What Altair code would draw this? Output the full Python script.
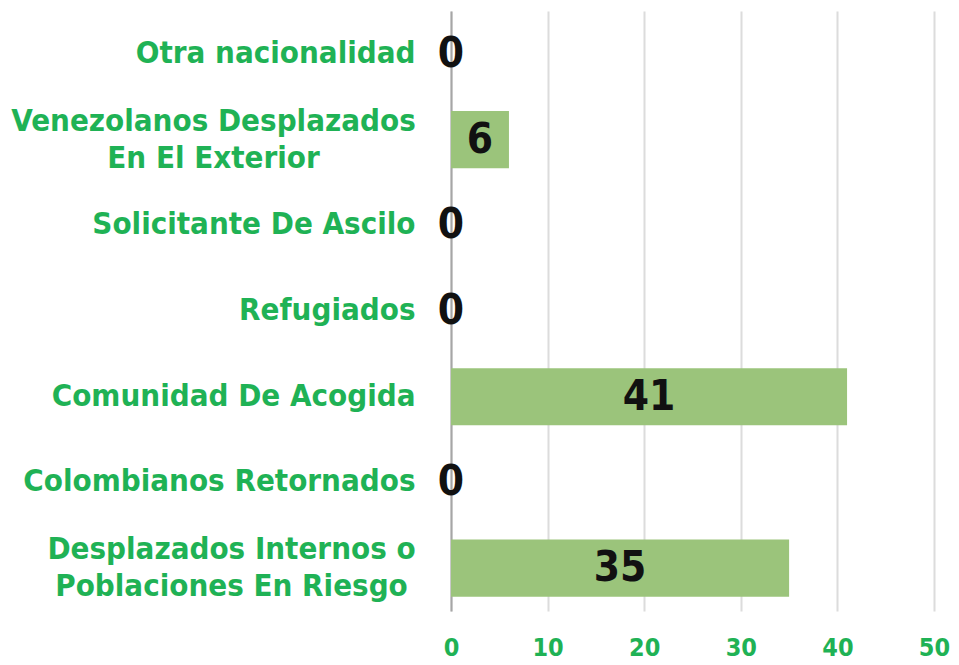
import altair as alt
import pandas as pd

categories = [
    "Otra nacionalidad",
    "Venezolanos Desplazados\nEn El Exterior",
    "Solicitante De Ascilo",
    "Refugiados",
    "Comunidad De Acogida",
    "Colombianos Retornados",
    "Desplazados Internos o\nPoblaciones En Riesgo",
]
values = [0, 6, 0, 0, 41, 0, 35]
x_ticks = [0, 10, 20, 30, 40, 50]

df = pd.DataFrame({"cat": categories, "val": values})

FONT = "DejaVu Sans Condensed, Roboto Condensed, Liberation Sans Narrow, Roboto"
GREEN = "#1fb255"
BAR = "#9bc47b"

MULTI = "indexof(datum.value, '\\n') >= 0"

y_enc = alt.Y(
    "cat:N",
    sort=categories,
    title=None,
    scale=alt.Scale(paddingInner=0.333, paddingOuter=0.1667),
    axis=alt.Axis(
        labelExpr="split(datum.label, '\\n')",
        labelFont=FONT,
        labelFontSize=31,
        labelFontWeight="bold",
        labelColor=GREEN,
        labelAlign={"condition": {"test": MULTI, "value": "center"}, "value": "right"},
        labelPadding={
            "condition": [
                {"test": "indexof(datum.value, 'Venezolanos') == 0", "value": 238},
                {"test": "indexof(datum.value, 'Desplazados') == 0", "value": 220},
            ],
            "value": 36,
        },
        labelOffset={"condition": {"test": MULTI, "value": -18}, "value": 0},
        labelLineHeight=37,
        labelLimit=600,
        ticks=False,
        domain=True,
        domainColor="#a6a6a6",
        domainWidth=2,
        grid=False,
    ),
)

x_enc = alt.X(
    "val:Q",
    title=None,
    scale=alt.Scale(domain=[0, 50], nice=False),
    axis=alt.Axis(
        values=x_ticks,
        labelFont=FONT,
        labelFontSize=25,
        labelFontWeight="bold",
        labelColor=GREEN,
        labelPadding=24,
        labelFlush=False,
        ticks=False,
        domain=False,
        grid=True,
        gridColor="#dcdcdc",
        gridWidth=2,
    ),
)

bars = alt.Chart(df).mark_bar(color=BAR).encode(x=x_enc, y=y_enc)

labels = (
    alt.Chart(df)
    .transform_calculate(mid="datum.val / 2")
    .mark_text(font=FONT, fontSize=42, fontWeight="bold", color="#111111", align="center", baseline="middle")
    .encode(
        x=alt.X("mid:Q"),
        y=alt.Y("cat:N", sort=categories),
        text=alt.Text("val:Q"),
    )
)

chart = (
    alt.layer(bars, labels)
    .properties(
        width=483,
        height=600,
        background="white",
        padding={"left": 2, "right": 0, "top": 3, "bottom": 0},
    )
    .configure_view(stroke=None)
)

chart.save("out.html", embed_options={"renderer": "svg", "actions": False})
